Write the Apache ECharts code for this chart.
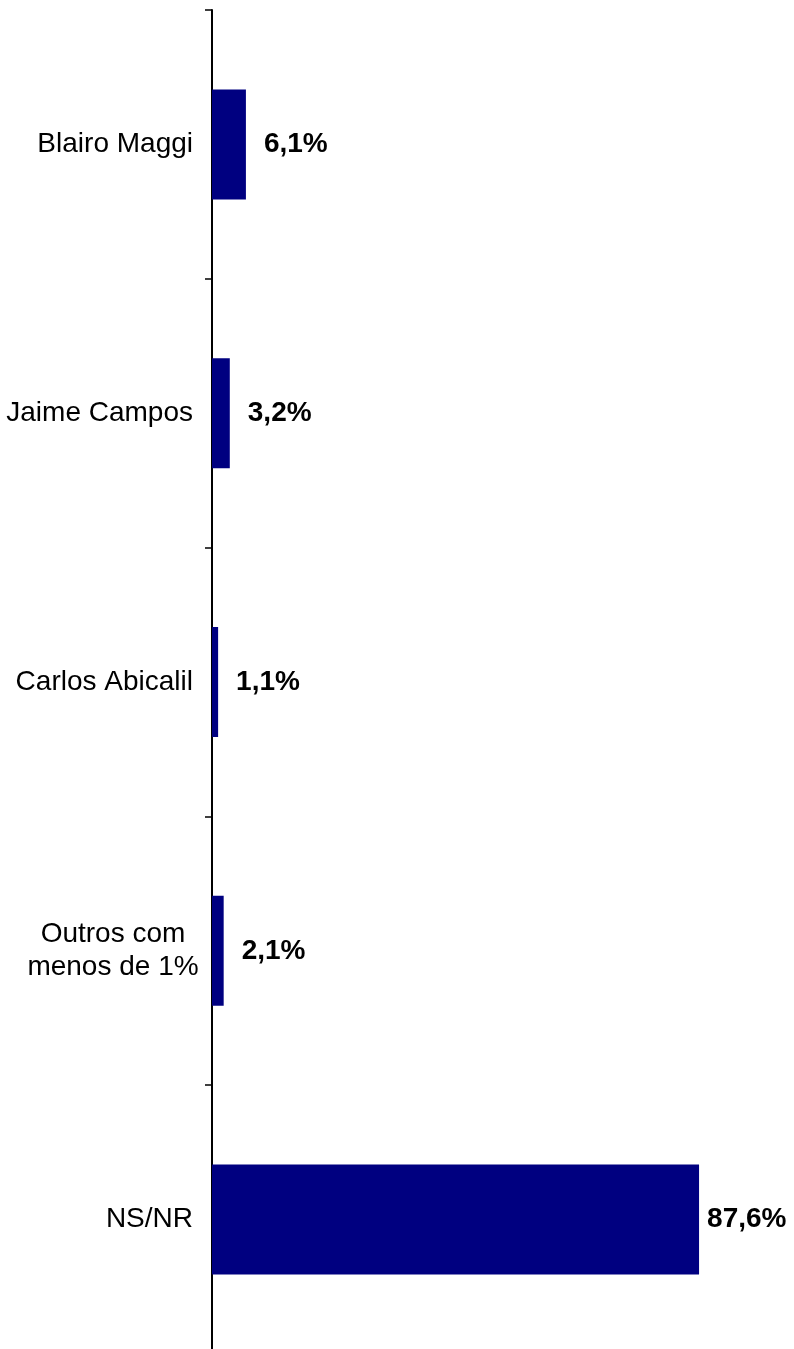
<!DOCTYPE html>
<html>
<head>
<meta charset="utf-8">
<script src="https://cdn.jsdelivr.net/npm/echarts@6/dist/echarts.min.js"></script>
<style>
  html, body { margin: 0; padding: 0; background: #fff; overflow: hidden; }
  #chart { width: 794px; height: 1354px; }
</style>
</head>
<body>
<div id="chart"></div>
<script>
// 类目与数值
const categories = ["Blairo Maggi", "Jaime Campos", "Carlos Abicalil", "Outros com\nmenos de 1%", "NS/NR"];
const values = [6.1, 3.2, 1.1, 2.1, 87.6];
const labelTexts = ["6,1%", "3,2%", "1,1%", "2,1%", "87,6%"];

const fontFamily = "Liberation Sans, Arial, sans-serif";
const barColor = "#000080";

let myChart = echarts.init(document.getElementById("chart"));

// 标签：最后一条离柱子更近
let seriesData = values.map((v, i) => {
  let item = { value: v };
  if (i === values.length - 1) {
    item.label = { distance: 8 };
  }
  return item;
});

let option = {
  animation: false,
  grid: {
    left: 212,
    right: 26,
    top: 10,
    bottom: 0,
  },
  xAxis: {
    type: "value",
    min: 0,
    max: 100,
    show: false,
  },
  yAxis: {
    type: "category",
    inverse: true,
    data: categories,
    axisLine: {
      show: true,
      lineStyle: { color: "#000", width: 2 },
    },
    axisTick: {
      show: true,
      length: 7,
      lineStyle: { color: "#000", width: 1.5 },
    },
    axisLabel: {
      margin: 19,
      color: "#000",
      fontSize: 28,
      fontFamily: fontFamily,
      formatter: (val) => {
        if (val.indexOf("\n") > -1) {
          return val.split("\n").map((s) => "{c|" + s + "}").join("\n");
        }
        return val;
      },
      rich: {
        c: {
          width: 160,
          align: "center",
          fontSize: 28,
          lineHeight: 33,
          fontFamily: fontFamily,
          color: "#000",
        },
      },
    },
  },
  series: [
    {
      type: "bar",
      data: seriesData,
      barWidth: 110,
      itemStyle: { color: barColor },
      label: {
        show: true,
        position: "right",
        distance: 18,
        color: "#000",
        fontSize: 28,
        fontWeight: "bold",
        fontFamily: fontFamily,
        formatter: (p) => labelTexts[p.dataIndex],
      },
    },
  ],
};

option && myChart.setOption(option);
</script>
</body>
</html>
